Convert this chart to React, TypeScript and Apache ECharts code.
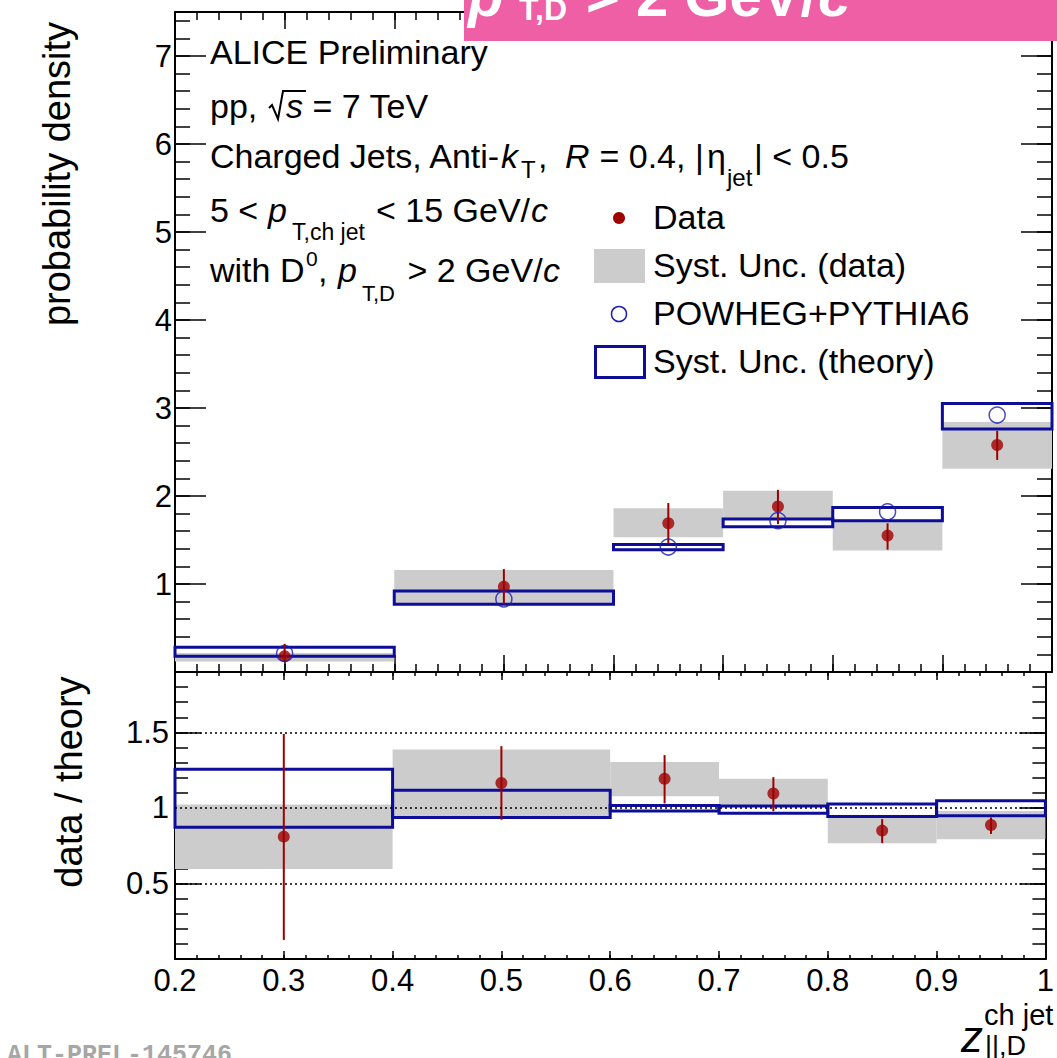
import React, { useEffect, useRef } from "react";
import * as echarts from "echarts";

// ---- bins ----
const binLo = [0.2, 0.4, 0.6, 0.7, 0.8, 0.9];
const binHi = [0.4, 0.6, 0.7, 0.8, 0.9, 1.0];
const binCenter = [0.3, 0.5, 0.65, 0.75, 0.85, 0.95];

// ---- top panel: probability density ----
const dataVal = [0.18, 0.97, 1.69, 1.88, 1.55, 2.58];
const dataStatLo = [0.12, 0.77, 1.46, 1.68, 1.39, 2.41];
const dataStatHi = [0.32, 1.17, 1.92, 2.07, 1.69, 2.74];
const dataSystLo = [0.12, 0.76, 1.53, 1.74, 1.38, 2.31];
const dataSystHi = [0.215, 1.16, 1.86, 2.06, 1.72, 2.84];
const theoryVal = [0.21, 0.83, 1.42, 1.72, 1.82, 2.92];
const theorySystLo = [0.18, 0.77, 1.39, 1.65, 1.72, 2.76];
const theorySystHi = [0.28, 0.92, 1.45, 1.74, 1.87, 3.05];

// ---- bottom panel: data / theory ----
const ratioVal = [0.81, 1.165, 1.193, 1.096, 0.85, 0.887];
const ratioStatLo = [0.126, 0.922, 1.03, 0.978, 0.767, 0.828];
const ratioStatHi = [1.49, 1.409, 1.35, 1.204, 0.926, 0.937];
const ratioSystLo = [0.596, 0.93, 1.078, 1.013, 0.767, 0.793];
const ratioSystHi = [1.022, 1.387, 1.304, 1.193, 0.945, 0.98];
const theoryRatioLo = [0.872, 0.937, 0.98, 0.965, 0.943, 0.948];
const theoryRatioHi = [1.257, 1.117, 1.017, 1.013, 1.026, 1.048];
const ratioRefLines = [0.5, 1, 1.5];

// ---- tick labels ----
const xTickLabels = ["0.2", "0.3", "0.4", "0.5", "0.6", "0.7", "0.8", "0.9", "1"];
const topYTickLabels = ["1", "2", "3", "4", "5", "6", "7"];
const ratioYTickLabels = ["0.5", "1", "1.5"];

const FONT = '"Liberation Sans", Arial, Helvetica, sans-serif';
const RED = "#9e0000";
const BLUE = "#0d0d9a";
const CIRCLE_BLUE = "#1b1bb0";
const GRAY = "#cccccc";

function seg(text: string, x: number, base: number, size: number, extra: any = {}) {
  return {
    type: "text",
    x,
    y: base - 0.35 * size,
    silent: true,
    z: 100,
    style: {
      text,
      fontSize: size,
      fontFamily: FONT,
      fill: "#000",
      align: "left",
      verticalAlign: "middle",
      ...extra,
    },
  };
}

function rectSeries(xi: number, yi: number, lo: number[], hi: number[], style: any, z: number) {
  return {
    type: "custom",
    xAxisIndex: xi,
    yAxisIndex: yi,
    z,
    encode: { x: [0, 1], y: [2, 3] },
    data: binLo.map((l, i) => [l, binHi[i], lo[i], hi[i]]),
    renderItem: (_p: any, api: any) => {
      const p0 = api.coord([api.value(0), api.value(2)]);
      const p1 = api.coord([api.value(1), api.value(3)]);
      return {
        type: "rect",
        shape: { x: p0[0], y: p1[1], width: p1[0] - p0[0], height: p0[1] - p1[1] },
        style,
      };
    },
  };
}

function errSeries(xi: number, yi: number, lo: number[], hi: number[], z: number) {
  return {
    type: "custom",
    xAxisIndex: xi,
    yAxisIndex: yi,
    z,
    encode: { x: 0, y: [1, 2] },
    data: binCenter.map((c, i) => [c, lo[i], hi[i]]),
    renderItem: (_p: any, api: any) => {
      const a = api.coord([api.value(0), api.value(1)]);
      const b = api.coord([api.value(0), api.value(2)]);
      return {
        type: "line",
        shape: { x1: a[0], y1: a[1], x2: b[0], y2: b[1] },
        style: { stroke: RED, lineWidth: 2 },
      };
    },
  };
}

function labelStyle(labels: string[], margin: number, extra: any = {}) {
  return {
    show: true,
    margin,
    fontSize: 31,
    fontFamily: FONT,
    color: "#000",
    showMinLabel: true,
    showMaxLabel: true,
    hideOverlap: false,
    formatter: (v: number) => {
      const s = String(Math.round(v * 10) / 10);
      return labels.includes(s) ? s : "";
    },
    ...extra,
  };
}

function mkX(grid: number, position: string, interval: number, tickLen: number, showLine: boolean, labels: any) {
  return {
    type: "value",
    gridIndex: grid,
    position,
    min: 0.2,
    max: 1.0,
    interval,
    axisLine: { show: showLine, onZero: false, lineStyle: { color: "#000", width: 2 } },
    axisTick: { show: true, inside: true, length: tickLen, lineStyle: { color: "#000", width: 1.5 } },
    minorTick: { show: false },
    splitLine: { show: false },
    minorSplitLine: { show: false },
    axisLabel: labels || { show: false },
  };
}

function mkY(
  grid: number,
  position: string,
  min: number,
  max: number,
  interval: number,
  tickLen: number,
  showLine: boolean,
  labels: any
) {
  return {
    type: "value",
    gridIndex: grid,
    position,
    min,
    max,
    interval,
    axisLine: { show: showLine, onZero: false, lineStyle: { color: "#000", width: 2 } },
    axisTick: { show: true, inside: true, length: tickLen, lineStyle: { color: "#000", width: 1.5 } },
    minorTick: { show: false },
    splitLine: { show: false },
    minorSplitLine: { show: false },
    axisLabel: labels || { show: false },
  };
}

export default function App() {
  const ref = useRef<HTMLDivElement>(null);

  useEffect(() => {
    if (!ref.current) return;
    const chart = echarts.init(ref.current, null, { renderer: "svg" });

    const graphic: any[] = [
      // banner
      { type: "rect", silent: true, z: 90, shape: { x: 464, y: 0, width: 593, height: 41 }, style: { fill: "#ef5fa6" } },
      seg("p", 468, 16, 58, { fontWeight: "bold", fontStyle: "italic", fill: "#fff" }),
      seg("T,D", 519, 20, 32, { fontWeight: "bold", fill: "#fff" }),
      seg("> 2 GeV/", 586, 16, 58, { fontWeight: "bold", fill: "#fff" }),
      seg("c", 818, 16, 58, { fontWeight: "bold", fontStyle: "italic", fill: "#fff" }),

      // text block
      seg("ALICE Preliminary", 210, 63.5, 34),
      seg("pp, ", 210, 118, 34),
      {
        type: "polyline",
        silent: true,
        z: 100,
        shape: { points: [[269, 108], [272, 105], [278, 119], [283, 91], [306, 91]] },
        style: { stroke: "#000", lineWidth: 2, fill: "none" },
      },
      seg("s", 286, 118, 34, { fontStyle: "italic" }),
      seg(" = 7 TeV", 303, 118, 34),

      seg("Charged Jets, Anti-", 210, 168, 34),
      seg("k", 501, 168, 34, { fontStyle: "italic" }),
      seg("T", 521, 178, 24),
      seg(", ", 538, 168, 34),
      seg("R", 565, 168, 34, { fontStyle: "italic" }),
      seg(" = 0.4, |", 590, 168, 34),
      seg("η", 707, 168, 34),
      seg("jet", 727, 186, 24),
      seg("| < 0.5", 754, 168, 34),

      seg("5 < ", 210, 222, 34),
      seg("p", 268, 222, 34, { fontStyle: "italic" }),
      seg("T,ch jet", 292, 240, 23),
      seg("< 15 GeV/", 376, 222, 34),
      seg("c", 531, 222, 34, { fontStyle: "italic" }),

      seg("with D", 210, 282, 34),
      seg("0", 306, 266, 21),
      seg(", ", 318, 282, 34),
      seg("p", 338, 282, 34, { fontStyle: "italic" }),
      seg("T,D", 362, 301, 22),
      seg(" > 2 GeV/", 398, 282, 34),
      seg("c", 543, 282, 34, { fontStyle: "italic" }),

      // legend
      { type: "circle", silent: true, z: 100, shape: { cx: 619, cy: 218, r: 6 }, style: { fill: RED } },
      { type: "rect", silent: true, z: 100, shape: { x: 594, y: 249, width: 51, height: 34 }, style: { fill: GRAY } },
      {
        type: "circle",
        silent: true,
        z: 100,
        shape: { cx: 619, cy: 314, r: 7.5 },
        style: { fill: "none", stroke: CIRCLE_BLUE, lineWidth: 1.5 },
      },
      {
        type: "rect",
        silent: true,
        z: 100,
        shape: { x: 595.5, y: 346.5, width: 49, height: 31 },
        style: { fill: "none", stroke: BLUE, lineWidth: 3 },
      },
      seg("Data", 653, 229, 34),
      seg("Syst. Unc. (data)", 653, 277, 34),
      seg("POWHEG+PYTHIA6", 653, 325, 34),
      seg("Syst. Unc. (theory)", 653, 373, 34),

      // axis titles
      {
        type: "text",
        x: 57,
        y: 174,
        rotation: Math.PI / 2,
        silent: true,
        style: { text: "probability density", fontSize: 38, fontFamily: FONT, fill: "#000", align: "center", verticalAlign: "middle" },
      },
      {
        type: "text",
        x: 69,
        y: 782,
        rotation: Math.PI / 2,
        silent: true,
        style: { text: "data / theory", fontSize: 38, fontFamily: FONT, fill: "#000", align: "center", verticalAlign: "middle" },
      },
      seg("z", 961, 1052, 44, { fontStyle: "italic" }),
      seg("ch jet", 984, 1025, 29),
      seg("||,D", 985, 1055, 27),

      // preliminary id
      seg("ALT-PREL-145746", 7, 1064, 25, { fontFamily: '"Liberation Mono", "DejaVu Sans Mono", monospace', fill: "#a6a6a6", fontWeight: "bold" }),
    ];

    const option: any = {
      animation: false,
      backgroundColor: "#fff",
      textStyle: { fontFamily: FONT },
      grid: [
        { left: 175, top: 12, width: 877, height: 660, containLabel: false },
        { left: 175, top: 672, width: 877, height: 287, containLabel: false },
      ],
      xAxis: [
        // 0-3: major ticks + frame lines
        mkX(0, "bottom", 0.1, 17, true, null),
        mkX(0, "top", 0.1, 17, true, null),
        mkX(1, "bottom", 0.1, 8, true, labelStyle(xTickLabels, 6, { verticalAlign: "top" })),
        mkX(1, "top", 0.1, 8, true, null),
        // 4-7: minor ticks
        mkX(0, "bottom", 0.02, 8, false, null),
        mkX(0, "top", 0.02, 8, false, null),
        mkX(1, "bottom", 0.02, 4, false, null),
        mkX(1, "top", 0.02, 4, false, null),
      ],
      yAxis: [
        // 0-3: major ticks + frame lines
        mkY(0, "left", 0, 7.5, 1, 31, true, labelStyle(topYTickLabels, 3)),
        mkY(0, "right", 0, 7.5, 1, 31, true, null),
        mkY(1, "left", 0, 1.9, 0.5, 26, true, labelStyle(ratioYTickLabels, 6)),
        mkY(1, "right", 0, 1.9, 0.5, 26, true, null),
        // 4-7: minor ticks
        mkY(0, "left", 0, 7.5, 0.2, 15, false, null),
        mkY(0, "right", 0, 7.5, 0.2, 15, false, null),
        mkY(1, "left", 0, 1.9, 0.1, 13, false, null),
        mkY(1, "right", 0, 1.9, 0.1, 13, false, null),
      ],
      series: [
        // top panel
        rectSeries(0, 0, dataSystLo, dataSystHi, { fill: GRAY }, 2),
        rectSeries(0, 0, theorySystLo, theorySystHi, { fill: "none", stroke: BLUE, lineWidth: 3 }, 3),
        errSeries(0, 0, dataStatLo, dataStatHi, 4),
        {
          type: "scatter",
          xAxisIndex: 0,
          yAxisIndex: 0,
          z: 5,
          symbol: "circle",
          symbolSize: 12,
          itemStyle: { color: RED },
          data: binCenter.map((c, i) => [c, dataVal[i]]),
        },
        {
          type: "scatter",
          xAxisIndex: 0,
          yAxisIndex: 0,
          z: 6,
          symbol: "circle",
          symbolSize: 16,
          itemStyle: { color: "transparent", borderColor: CIRCLE_BLUE, borderWidth: 1.5 },
          data: binCenter.map((c, i) => [c, theoryVal[i]]),
        },
        // ratio panel
        rectSeries(2, 2, ratioSystLo, ratioSystHi, { fill: GRAY }, 2),
        rectSeries(2, 2, theoryRatioLo, theoryRatioHi, { fill: "none", stroke: BLUE, lineWidth: 3 }, 3),
        errSeries(2, 2, ratioStatLo, ratioStatHi, 4),
        {
          type: "scatter",
          xAxisIndex: 2,
          yAxisIndex: 2,
          z: 5,
          symbol: "circle",
          symbolSize: 12,
          itemStyle: { color: RED },
          data: binCenter.map((c, i) => [c, ratioVal[i]]),
          markLine: {
            silent: true,
            symbol: ["none", "none"],
            label: { show: false },
            lineStyle: { color: "#000", type: [2, 3], width: 1.5 },
            data: ratioRefLines.map((v) => ({ yAxis: v })),
          },
        },
      ],
      graphic,
    };

    chart.setOption(option);
    return () => chart.dispose();
  }, []);

  return (
    <div
      ref={ref}
      style={{ position: "absolute", left: 0, top: 0, width: 1057, height: 1058, background: "#fff" }}
    />
  );
}
